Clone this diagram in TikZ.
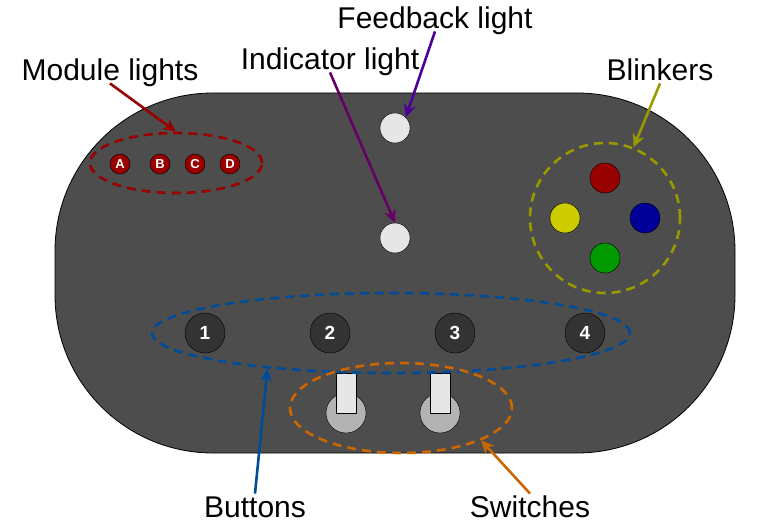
\documentclass[tikz,border=0pt]{standalone}
\usepackage{fontspec}
\setmainfont{Liberation Sans}
\usetikzlibrary{shapes.geometric,arrows.meta}
\definecolor{bodyc}{HTML}{4D4D4D}
\definecolor{mred}{HTML}{990000}
\definecolor{lightc}{HTML}{E6E6E6}
\definecolor{btnc}{HTML}{333333}
\definecolor{swc}{HTML}{B3B3B3}
\definecolor{fbc}{HTML}{4C0099}
\definecolor{indc}{HTML}{660066}
\definecolor{olivec}{HTML}{999900}
\definecolor{yellowc}{HTML}{CCCC00}
\definecolor{bluec}{HTML}{000099}
\definecolor{greenc}{HTML}{009900}
\definecolor{btnline}{HTML}{004C99}
\definecolor{swline}{HTML}{CC6600}
\begin{document}
\begin{tikzpicture}[x=1pt,y=-1pt,
  lab/.style={font=\fontsize{30}{35}\selectfont, inner sep=2.5pt, text height=21.5pt, text depth=0pt},
  grp/.style={ellipse, draw=#1, line width=2.6pt, dash pattern=on 9pt off 6pt, minimum width=0pt, inner sep=0pt},
  modl/.style={circle, draw=black, fill=mred, minimum size=20pt, inner sep=0pt, text=white, font=\bfseries\fontsize{13}{13}\selectfont},
  lamp/.style={circle, draw=black, fill=#1, minimum size=30pt, inner sep=0pt},
  btn/.style={circle, draw=black, fill=btnc, minimum size=40pt, inner sep=0pt, text=white, font=\bfseries\fontsize{19}{19}\selectfont},
  swbase/.style={circle, draw=black, fill=swc, minimum size=40pt, inner sep=0pt},
  swlever/.style={draw=black, fill=lightc, minimum width=20pt, minimum height=40pt, inner sep=0pt},
  arr/.style={draw=#1, line width=2.6pt, -{Stealth[length=13pt,width=12pt]}}
]
\useasboundingbox (0,0) rectangle (770,526);
% body
\draw[fill=bodyc, draw=black, line width=0.8pt, rounded corners=158pt] (55,93) rectangle (735,453);

% module lights
\node[modl] (mA) at (120,164) {A};
\node[modl] (mB) at (160,164) {B};
\node[modl] (mC) at (195,164) {C};
\node[modl] (mD) at (230,164) {D};
\node[grp=mred, minimum width=172pt, minimum height=60pt] (modules) at (176,163) {};

% feedback / indicator
\node[lamp=lightc] (fb) at (395,128) {};
\node[lamp=lightc] (ind) at (395,238) {};

% blinkers
\node[lamp=mred] (bR) at (605,178) {};
\node[lamp=yellowc] (bY) at (565,218) {};
\node[lamp=bluec] (bB) at (645,218) {};
\node[lamp=greenc] (bG) at (605,258) {};
\node[grp=olivec, minimum width=150pt, minimum height=150pt] (blink) at (605,218) {};

% buttons
\node[btn] (b1) at (205,333) {1};
\node[btn] (b2) at (330,333) {2};
\node[btn] (b3) at (455,333) {3};
\node[btn] (b4) at (585,333) {4};

% switches
\node[swbase] (s1) at (346,413) {};
\node[swlever] (l1) at (346,393) {};
\node[swbase] (s2) at (440,413) {};
\node[swlever] (l2) at (440,393) {};

\node[grp=btnline, minimum width=478pt, minimum height=80pt] (buttons) at (391,333) {};
\node[grp=swline, minimum width=222pt, minimum height=90pt] (switches) at (401,408) {};

% labels
\node[lab] (tMod) at (110,70) {Module lights};
\node[lab] (tFb) at (435,18) {Feedback light};
\node[lab] (tInd) at (330,59) {Indicator light};
\node[lab] (tBl) at (660,70) {Blinkers};
\node[lab] (tBtn) at (255,507) {Buttons};
\node[lab] (tSw) at (530,507) {Switches};

% arrows
\draw[arr=mred] (tMod.south) -- (modules.north);
\draw[arr=fbc] (tFb.south) -- (fb.north east);
\draw[arr=indc] (tInd.south) -- (ind.north);
\draw[arr=olivec] (tBl.south) -- (blink.68);
\draw[arr=btnline] (tBtn.north) -- (buttons.196);
\draw[arr=swline] (tSw.north) -- (switches.338);
\end{tikzpicture}
\end{document}
